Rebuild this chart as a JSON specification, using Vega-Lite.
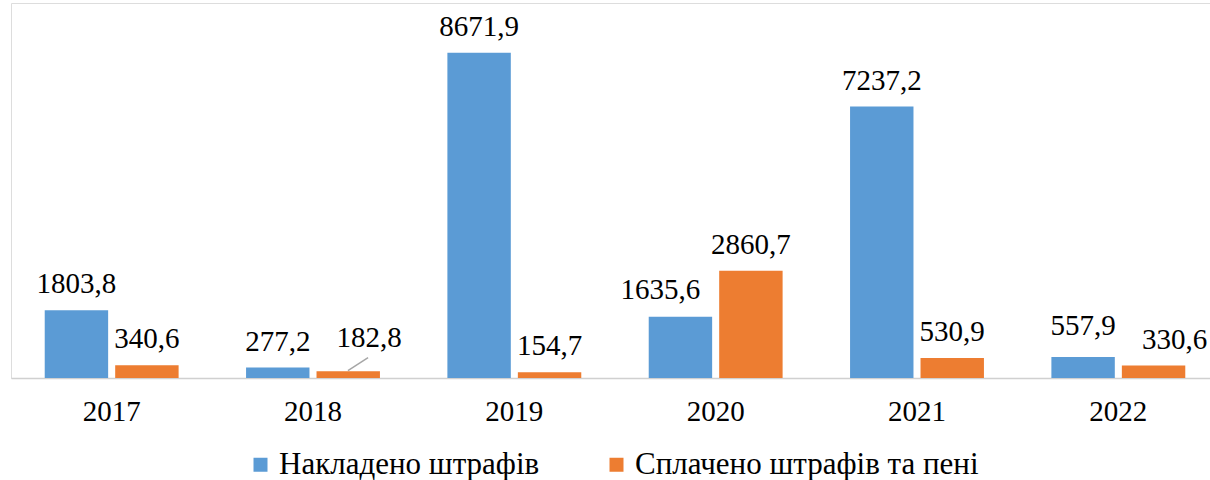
{
  "$schema": "https://vega.github.io/schema/vega-lite/v6.json",
  "width": 1208,
  "height": 375,
  "autosize": "none",
  "padding": {"left": 11, "top": 3, "right": 0, "bottom": 102},
  "background": "white",
  "config": {
    "font": "Liberation Serif"
  },
  "data": {
    "values": [
      {"year": "2017", "series": "Накладено штрафів", "value": 1803.8},
      {"year": "2017", "series": "Сплачено штрафів та пені", "value": 340.6},
      {"year": "2018", "series": "Накладено штрафів", "value": 277.2},
      {"year": "2018", "series": "Сплачено штрафів та пені", "value": 182.8},
      {"year": "2019", "series": "Накладено штрафів", "value": 8671.9},
      {"year": "2019", "series": "Сплачено штрафів та пені", "value": 154.7},
      {"year": "2020", "series": "Накладено штрафів", "value": 1635.6},
      {"year": "2020", "series": "Сплачено штрафів та пені", "value": 2860.7},
      {"year": "2021", "series": "Накладено штрафів", "value": 7237.2},
      {"year": "2021", "series": "Сплачено штрафів та пені", "value": 530.9},
      {"year": "2022", "series": "Накладено штрафів", "value": 557.9},
      {"year": "2022", "series": "Сплачено штрафів та пені", "value": 330.6}
    ]
  },
  "transform": [
    {"calculate": "replace(format(datum.value, '.1f'), '.', ',')", "as": "label"},
    {"calculate": "datum.year + '|' + datum.series", "as": "key"}
  ],
  "encoding": {
    "x": {
      "field": "year",
      "type": "nominal",
      "scale": {"paddingInner": 0.335, "paddingOuter": 0.1675},
      "axis": {
        "title": null,
        "labelAngle": 0,
        "ticks": false,
        "domainColor": "#d0d0d0",
        "domainWidth": 1.5,
        "labelFont": "Liberation Serif",
        "labelFontSize": 29,
        "labelColor": "#000000",
        "labelPadding": 19
      }
    },
    "y": {
      "field": "value",
      "type": "quantitative",
      "scale": {"domain": [0, 10000]},
      "axis": null
    }
  },
  "layer": [
    {
      "mark": {"type": "bar"},
      "encoding": {
        "xOffset": {
          "field": "series",
          "type": "nominal",
          "sort": ["Накладено штрафів", "Сплачено штрафів та пені"],
          "scale": {"paddingInner": 0.1, "paddingOuter": 0}
        },
        "color": {
          "field": "series",
          "type": "nominal",
          "sort": ["Накладено штрафів", "Сплачено штрафів та пені"],
          "scale": {"range": ["#5B9BD5", "#ED7D31"]},
          "legend": {
            "title": null,
            "orient": "none",
            "direction": "horizontal",
            "legendX": 234,
            "legendY": 446,
            "padding": 0,
            "symbolType": "square",
            "symbolSize": 196,
            "symbolStrokeWidth": 0,
            "labelFont": "Liberation Serif",
            "labelFontSize": 31,
            "labelColor": "#000000",
            "labelOffset": 3,
            "labelLimit": 800,
            "columnPadding": 61
          }
        }
      }
    },
    {
      "transform": [{"filter": "indexof(['2018|Сплачено штрафів та пені', '2020|Накладено штрафів', '2022|Сплачено штрафів та пені', '2022|Накладено штрафів'], datum.key) < 0"}],
      "mark": {"type": "text", "font": "Liberation Serif", "fontSize": 29, "color": "#000000", "baseline": "alphabetic", "dy": -17},
      "encoding": {
        "xOffset": {"field": "series", "type": "nominal", "sort": ["Накладено штрафів", "Сплачено штрафів та пені"]},
        "text": {"field": "label"}
      }
    },
    {
      "transform": [{"filter": "datum.key == '2018|Сплачено штрафів та пені'"}],
      "mark": {"type": "text", "font": "Liberation Serif", "fontSize": 29, "color": "#000000", "baseline": "alphabetic", "dx": 21, "dy": -24},
      "encoding": {
        "xOffset": {"field": "series", "type": "nominal", "sort": ["Накладено штрафів", "Сплачено штрафів та пені"]},
        "text": {"field": "label"}
      }
    },
    {
      "transform": [{"filter": "datum.key == '2020|Накладено штрафів'"}],
      "mark": {"type": "text", "font": "Liberation Serif", "fontSize": 29, "color": "#000000", "baseline": "alphabetic", "dx": -20, "dy": -18},
      "encoding": {
        "xOffset": {"field": "series", "type": "nominal", "sort": ["Накладено штрафів", "Сплачено штрафів та пені"]},
        "text": {"field": "label"}
      }
    },
    {
      "transform": [{"filter": "datum.key == '2022|Сплачено штрафів та пені'"}],
      "mark": {"type": "text", "font": "Liberation Serif", "fontSize": 29, "color": "#000000", "baseline": "alphabetic", "dx": 21, "dy": -17},
      "encoding": {
        "xOffset": {"field": "series", "type": "nominal", "sort": ["Накладено штрафів", "Сплачено штрафів та пені"]},
        "text": {"field": "label"}
      }
    },
    {
      "transform": [{"filter": "datum.key == '2022|Накладено штрафів'"}],
      "mark": {"type": "text", "font": "Liberation Serif", "fontSize": 29, "color": "#000000", "baseline": "alphabetic", "dy": -22},
      "encoding": {
        "xOffset": {"field": "series", "type": "nominal", "sort": ["Накладено штрафів", "Сплачено штрафів та пені"]},
        "text": {"field": "label"}
      }
    },
    {
      "transform": [{"filter": "datum.key == '2018|Сплачено штрафів та пені'"}],
      "mark": {"type": "point", "shape": "stroke", "size": 576, "angle": 327, "filled": false, "stroke": "#a6a6a6", "strokeWidth": 1.5, "opacity": 1, "xOffset": 45, "yOffset": -7}
    }
  ]
}
